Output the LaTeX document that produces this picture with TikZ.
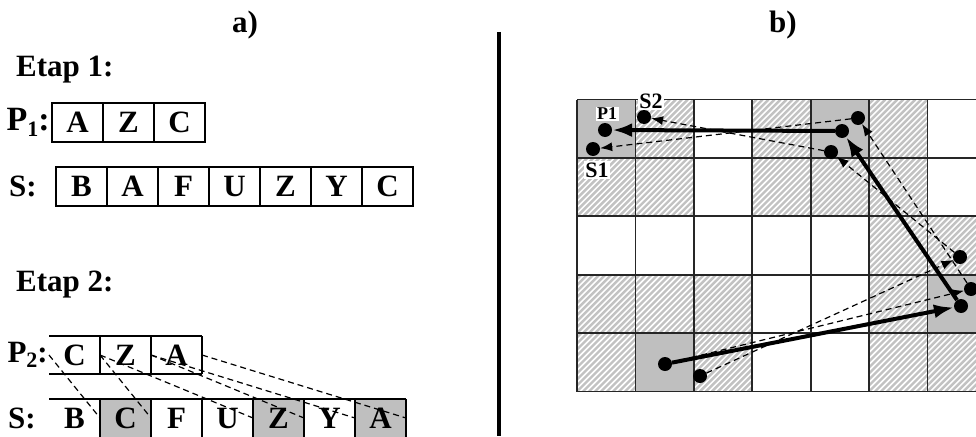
\documentclass[tikz,border=0pt]{standalone}
\usepackage{fontspec}
\setmainfont{Liberation Serif}
\usetikzlibrary{positioning,arrows.meta}
\tikzstyle{cell} = [draw, line width=1.3pt, rectangle, minimum width=51pt, minimum height=39pt, inner sep=0pt, outer sep=0pt, font=\fontsize{31}{31}\selectfont\bfseries]
\tikzstyle{slot} = [rectangle, minimum width=51pt, minimum height=38pt, inner sep=0pt, outer sep=0pt, font=\fontsize{31}{31}\selectfont\bfseries]
\tikzstyle{tag} = [inner sep=0pt, font=\fontsize{31}{31}\selectfont\bfseries]
\tikzstyle{gridtag} = [fill=white, inner sep=1.5pt, font=\fontsize{22}{22}\selectfont\bfseries]
\tikzstyle{border} = [draw, line width=1.3pt]
\tikzstyle{link} = [draw, line width=1.2pt, dash pattern=on 6pt off 4pt]
\tikzstyle{dot} = [circle, fill=black, inner sep=0pt, minimum size=14pt]
\tikzstyle{hatch} = [draw=black!24, line width=2.4pt]
\tikzstyle{gridline} = [draw, line width=1.8pt, black!85]
\tikzstyle{route} = [draw, line width=4pt, -{Latex[length=20pt,width=14pt]}]
\tikzstyle{trail} = [draw, line width=1.2pt, dash pattern=on 6pt off 4pt, -{Latex[length=12pt,width=9pt]}]
\newcommand{\lowidx}[1]{\raisebox{-0.35ex}{\fontsize{22}{22}\selectfont #1}}

\begin{document}
\begin{tikzpicture}[x=1pt, y=-1pt, node distance = 0pt, auto]
    \useasboundingbox (0,0) rectangle (976,436);
    \node [tag] (ta) at (245,25) {a)};
    \node [tag] (tb) at (783,25) {b)};
    \coordinate (septop) at (499,32);
    \coordinate (sepbot) at (499,436);
    \draw [line width=4pt] (septop) -- (sepbot);

    % etap 1
    \node [tag, anchor=west] (e1) at (16,70) {Etap 1:};
    \node [cell] (p1a) at (77.5,122.5) {A};
    \node [cell, right=0pt of p1a] (p1z) {Z};
    \node [cell, right=0pt of p1z] (p1c) {C};
    \node [tag, left=2pt of p1a, font=\fontsize{34}{34}\selectfont\bfseries] (p1l) {P\lowidx{1}:};
    \node [cell] (s1b) at (81.5,186.5) {B};
    \node [cell, right=0pt of s1b] (s1a) {A};
    \node [cell, right=0pt of s1a] (s1f) {F};
    \node [cell, right=0pt of s1f] (s1u) {U};
    \node [cell, right=0pt of s1u] (s1z) {Z};
    \node [cell, right=0pt of s1z] (s1y) {Y};
    \node [cell, right=0pt of s1y] (s1c) {C};
    \node [tag, left=19pt of s1b] (s1l) {S:};

    % etap 2
    \node [tag, anchor=west] (e2) at (16,285) {Etap 2:};
    \node [slot] (p2c) at (74.5,355) {C};
    \node [slot, right=0pt of p2c] (p2z) {Z};
    \node [slot, right=0pt of p2z] (p2a) {A};
    \node [tag, left=1pt of p2c] (p2l) {P\lowidx{2}:};
    \node [slot] (s2b) at (74.5,418) {B};
    \node [slot, right=0pt of s2b, fill=black!25] (s2c) {C};
    \node [slot, right=0pt of s2c] (s2f) {F};
    \node [slot, right=0pt of s2f] (s2u) {U};
    \node [slot, right=0pt of s2u, fill=black!25] (s2z) {Z};
    \node [slot, right=0pt of s2z] (s2y) {Y};
    \node [slot, right=0pt of s2y, fill=black!25] (s2a) {A};
    \node [tag, left=13pt of s2b] (s2l) {S:};
    \path [border] (p2c.north west) -- (p2a.north east);
    \path [border] (p2c.south west) -- (p2a.south east);
    \foreach \n in {p2c,p2z,p2a}
        \path [border] (\n.north east) -- (\n.south east);
    \path [border] (s2b.north west) -- (s2a.north east);
    \foreach \n in {s2b,s2c,s2f,s2u,s2z,s2y,s2a}
        \path [border] (\n.north east) -- (\n.south east);
    \path [link] (p2c.west) -- (s2c.west);
    \path [link] (p2c.east) -- (s2c.east);
    \path [link] (p2z.west) -- (s2z.west);
    \path [link] (p2z.east) -- (s2z.east);
    \path [link] (p2a.west) -- (s2a.west);
    \path [link] (p2a.east) -- (s2a.east);

    % plansza b)
    \foreach \c/\r in {0/0,4/0,6/3,1/4}
        \fill [black!25] (577+\c*58.4, 99.5+\r*58.4) rectangle ++(58.4,58.4);
    \foreach \c/\r in {1/0,3/0,5/0,0/1,1/1,3/1,4/1,5/1,5/2,6/2,0/3,1/3,2/3,5/3,0/4,2/4,5/4,6/4}{
        \begin{scope}
            \clip (577+\c*58.4, 99.5+\r*58.4) rectangle ++(58.4,58.4);
            \foreach \k in {-66,-60,...,66}
                \path [hatch] (577+\c*58.4+\k, 99.5+\r*58.4+58.4) -- ++(58.4,-58.4);
        \end{scope}
    }
    \foreach \i in {0,...,7}
        \path [gridline] (577+\i*58.4, 99.5) -- ++(0,292);
    \foreach \j in {0,...,5}
        \path [gridline] (577, 99.5+\j*58.4) -- ++(408.8,0);

    \node [gridtag, font=\fontsize{18}{18}\selectfont\bfseries] (mp1) at (607,114) {P1};
    \node [gridtag] (ms2) at (651,101) {S2};
    \node [gridtag] (ms1) at (597,170) {S1};

    \node [dot] (p1n) at (605,130) {};
    \node [dot] (s1n) at (593,149) {};
    \node [dot] (s2n) at (644,117) {};
    \node [dot] (a2) at (842,131) {};
    \node [dot] (b2) at (858,118) {};
    \node [dot] (c2) at (831,152) {};
    \node [dot] (c1) at (960,257) {};
    \node [dot] (b1) at (971,289) {};
    \node [dot] (a1) at (961,306) {};
    \node [dot] (a0) at (665,364) {};
    \node [dot] (c0) at (700,376) {};

    \path [trail] (a0) -- (b1);
    \path [trail] (b1) -- (b2);
    \path [trail] (b2) -- (s1n);
    \path [trail] (c0) -- (c1);
    \path [trail] (c1) -- (c2);
    \path [trail] (c2) -- (s2n);
    \path [route] (a0) -- (a1);
    \path [route] (a1) -- (a2);
    \path [route] (a2) -- (p1n);
\end{tikzpicture}
\end{document}
